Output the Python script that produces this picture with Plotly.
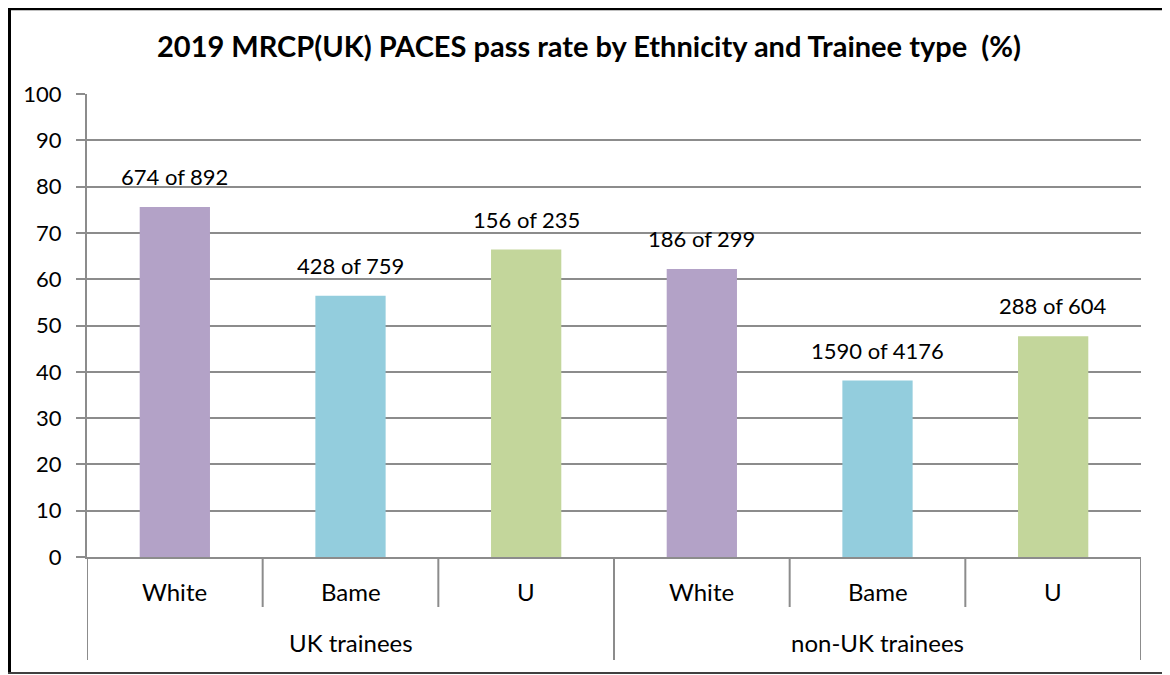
import plotly.graph_objects as go

# data
groups = ["UK trainees", "non-UK trainees"]
ethnicity = ["White", "Bame", "U", "White", "Bame", "U"]
pass_rate = [75.6, 56.4, 66.4, 62.2, 38.1, 47.7]
pass_text = ["674 of 892", "428 of 759", "156 of 235", "186 of 299", "1590 of 4176", "288 of 604"]
colours = ["#B3A2C7", "#93CDDD", "#C3D69B", "#B3A2C7", "#93CDDD", "#C3D69B"]

# the page body has an 8px margin, so the figure sits 8px in from the window edge
OFF = 8
W, H = 1170 - OFF, 675 - OFF
L, R, T, B = 87 - OFF, 1141 - OFF, 94 - OFF, 557 - OFF
FONT = "Lato, Carlito, Calibri, sans-serif"
GREY = "#8C8C8C"


def py(pix):
    # window pixel row -> paper y
    return (B - (pix - OFF)) / (B - T)


def px_(pix):
    return ((pix - OFF) - L) / (R - L)


xs = list(range(len(ethnicity)))

fig = go.Figure()
fig.add_trace(go.Bar(x=xs, y=pass_rate, marker_color=colours, marker_line_width=0,
                     width=0.4, hoverinfo="skip"))

# bar labels
for i, v in enumerate(pass_rate):
    fig.add_annotation(x=xs[i], y=v, text=pass_text[i], showarrow=False,
                       yanchor="bottom", yshift=15, font=dict(size=22, color="#000"))

# category labels
for i, e in enumerate(ethnicity):
    fig.add_annotation(x=xs[i], y=py(591), yref="paper", text=e, showarrow=False,
                       yanchor="middle", font=dict(size=24, color="#000"))

n = len(ethnicity) // len(groups)
for g, name in enumerate(groups):
    fig.add_annotation(x=g * n + (n - 1) / 2, y=py(642), yref="paper", text=name,
                       showarrow=False, yanchor="middle", font=dict(size=24, color="#000"))

# separators under the axis
for i in range(len(ethnicity) + 1):
    xb = i - 0.5
    long_line = (i % n == 0)
    fig.add_shape(type="line", x0=xb, x1=xb, y0=0, y1=py(660 if long_line else 607),
                  xref="x", yref="paper", line=dict(color=GREY, width=2))

# outer border
fig.add_shape(type="line", xref="paper", yref="paper", x0=px_(9.5), x1=px_(9.5), y0=py(8), y1=py(674),
              line=dict(color="#000", width=3))
fig.add_shape(type="line", xref="paper", yref="paper", x0=px_(8), x1=px_(1172), y0=py(9), y1=py(9),
              line=dict(color="#000", width=2.5))
fig.add_shape(type="line", xref="paper", yref="paper", x0=px_(8), x1=px_(1172), y0=py(673), y1=py(673),
              line=dict(color="#404040", width=2))

fig.update_layout(
    width=W, height=H,
    margin=dict(l=L, r=W - R, t=T, b=H - B),
    paper_bgcolor="white", plot_bgcolor="white",
    font=dict(family=FONT, size=22, color="#000"),
    showlegend=False,
    title=dict(text="<b>2019 MRCP(UK) PACES pass rate by Ethnicity and Trainee type  (%)</b>",
               x=0.5, xanchor="center", y=1 - (47 - OFF) / H, yanchor="middle",
               font=dict(size=29, color="#000")),
    xaxis=dict(range=[-0.5, len(ethnicity) - 0.5], showticklabels=False, showgrid=False,
               zeroline=False, showline=True, linecolor=GREY, linewidth=2, ticks=""),
    yaxis=dict(range=[0, 100], dtick=10, showgrid=True, gridcolor=GREY, gridwidth=2,
               zeroline=False, showline=True, linecolor=GREY, linewidth=2,
               ticks="outside", ticklen=9, tickcolor=GREY, tickwidth=2,
               ticklabelstandoff=10, tickfont=dict(size=22)),
)

fig.write_html("out.html")
